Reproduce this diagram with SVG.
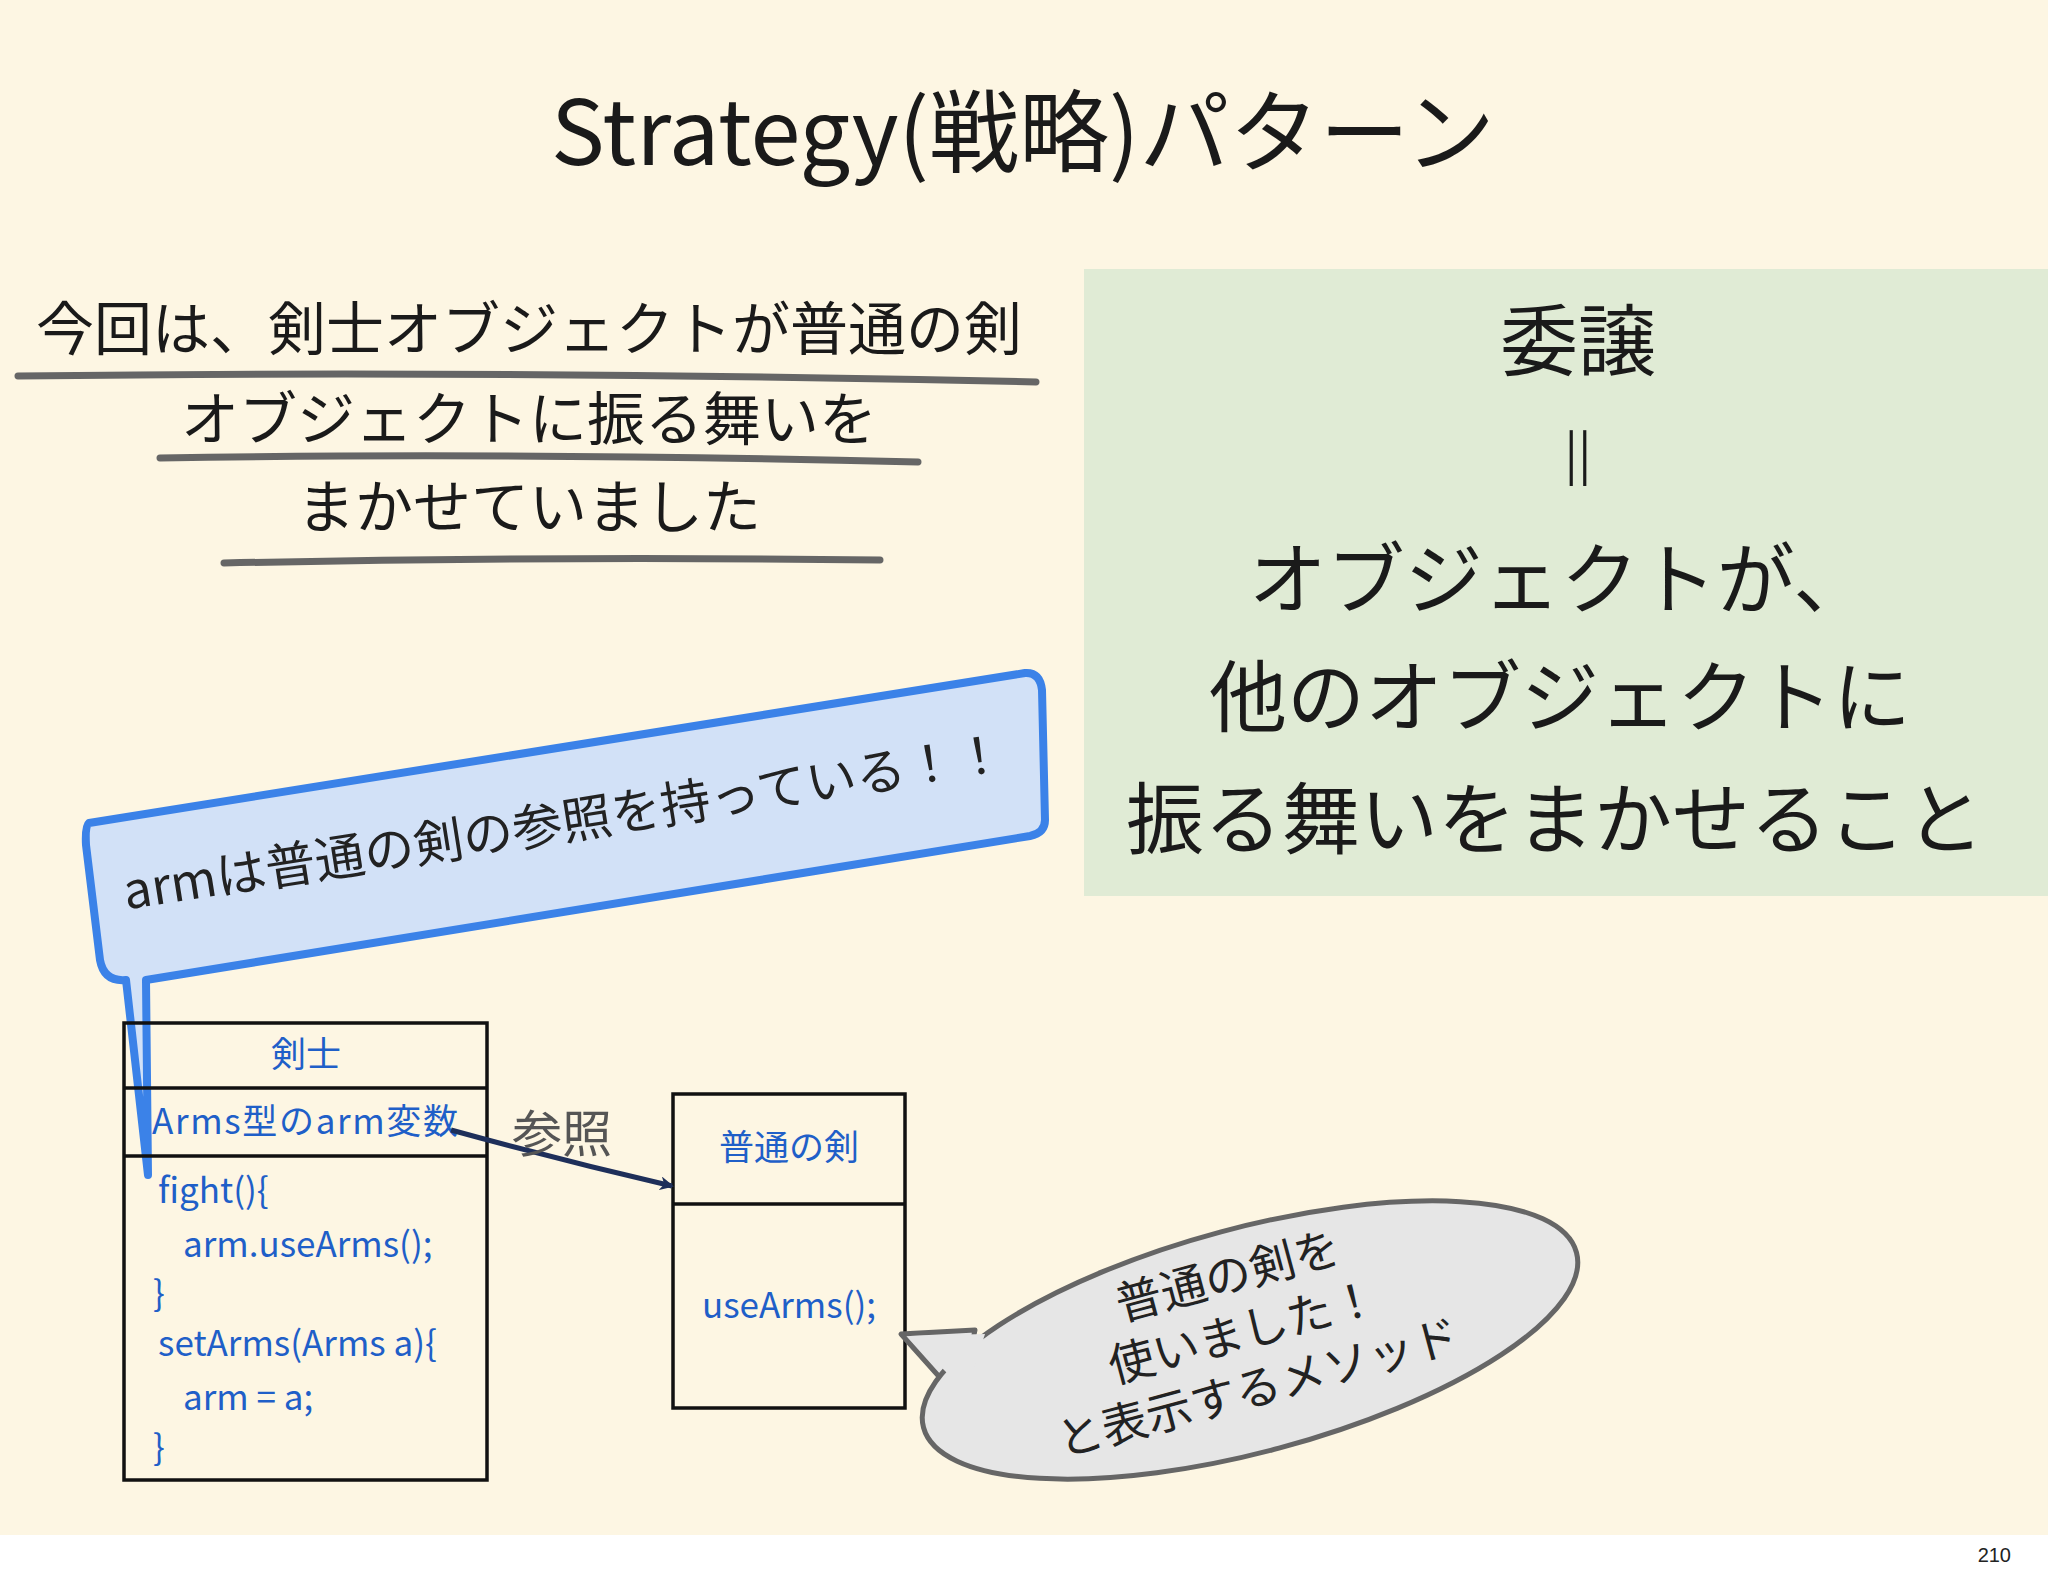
<svg xmlns="http://www.w3.org/2000/svg" width="2048" height="1576" viewBox="0 0 2048 1576">
<style>
.jp{font-family:"Noto Sans CJK JP","Noto Sans",sans-serif;}
.t{fill:#1a1a1a}
.cls{fill:#1f5fc8;font-size:35px}
.box{fill:none;stroke:#111;stroke-width:3.5}
.ul{stroke:#666;stroke-width:7;stroke-linecap:round;fill:none}
</style>
<defs>
<marker id="ah" markerWidth="14" markerHeight="14" refX="12" refY="7" orient="auto" markerUnits="userSpaceOnUse" viewBox="0 0 14 14"><path d="M0,0 L14,7 L0,14 L4,7 z" fill="#1e2f5a"/></marker>
</defs>
<rect width="2048" height="1576" fill="#fff"/>
<rect width="2048" height="1535" fill="#fdf6e3"/>
<text x="2011" y="1562" font-family="Liberation Sans,sans-serif" font-size="20" text-anchor="end" fill="#222">210</text>
<text class="jp t" x="1023" y="165" font-size="90" text-anchor="middle">Strategy(戦略)パターン</text>

<g id="delegation">
<rect x="1084" y="269" width="964" height="627" fill="#e0ebd5"/>
<g class="jp t" font-size="78" text-anchor="middle">
<text x="1578" y="370">委譲</text>
<text x="1578" y="472" font-size="50">||</text>
<text x="1560" y="608">オブジェクトが、</text>
<text x="1560" y="726">他のオブジェクトに</text>
<text x="1555" y="848">振る舞いをまかせること</text>
</g>
</g>

<g id="intro">
<g class="jp t" font-size="58" text-anchor="middle">
<text x="529" y="350">今回は、剣士オブジェクトが普通の剣</text>
<text x="529" y="440">オブジェクトに振る舞いを</text>
<text x="529" y="528">まかせていました</text>
</g>
<path class="ul" d="M18,376 Q500,370 1036,382"/>
<path class="ul" d="M160,458 Q500,452 918,462"/>
<path class="ul" d="M224,563 Q550,556 880,560"/>
</g>

<g id="callout">
<path d="M89,823 L1025,673 Q1040,672 1042,690 L1045,820 Q1045,833 1030,836 L146,980 L148,1175 L126,980 Q104,982 100,960 L86,845 Q85,826 89,823 z" fill="#d2e1f7" stroke="#3b82e8" stroke-width="8" stroke-linejoin="round"/>
<text class="jp" x="565" y="840" font-size="50" fill="#222" text-anchor="middle" transform="rotate(-9 565 830)">armは普通の剣の参照を持っている！！</text>
</g>

<g id="kenshi">
<rect class="box" x="124" y="1023" width="363" height="457"/>
<line class="box" x1="124" y1="1088" x2="487" y2="1088"/>
<line class="box" x1="124" y1="1156" x2="487" y2="1156"/>
<g class="jp cls">
<text x="306" y="1067" text-anchor="middle">剣士</text>
<text x="152" y="1134" textLength="306">Arms型のarm変数</text>
<text x="158" y="1203">fight(){</text>
<text x="183" y="1257">arm.useArms();</text>
<text x="153" y="1306">}</text>
<text x="158" y="1356">setArms(Arms a){</text>
<text x="183" y="1410">arm = a;</text>
<text x="153" y="1460">}</text>
</g>
</g>

<g id="futsu">
<rect class="box" x="673" y="1094" width="232" height="314"/>
<line class="box" x1="673" y1="1204" x2="905" y2="1204"/>
<g class="jp cls" text-anchor="middle">
<text x="789" y="1160">普通の剣</text>
<text x="789" y="1318">useArms();</text>
</g>
</g>

<g id="connectors">
<path d="M451,1130 Q560,1160 672,1186" fill="none" stroke="#1e2f5a" stroke-width="5" marker-end="url(#ah)"/>
<text class="jp" x="562" y="1152" font-size="50" fill="#555" text-anchor="middle">参照</text>
</g>

<g id="bubble">
<path d="M901,1334 L975,1330 L960,1400 z" fill="#e6e6e6" stroke="#666" stroke-width="5" stroke-linejoin="round"/>
<ellipse cx="1250" cy="1340" rx="338" ry="112" transform="rotate(-15 1250 1340)" fill="#e6e6e6" stroke="#666" stroke-width="5"/>
<path d="M910,1336 L985,1334 L966,1392 z" fill="#e6e6e6"/>
<g class="jp" font-size="46" fill="#222" text-anchor="middle" transform="rotate(-15 1245 1340)">
<text x="1245" y="1290">普通の剣を</text>
<text x="1245" y="1348">使いました！</text>
<text x="1245" y="1406">と表示するメソッド</text>
</g>
</g>
</svg>
